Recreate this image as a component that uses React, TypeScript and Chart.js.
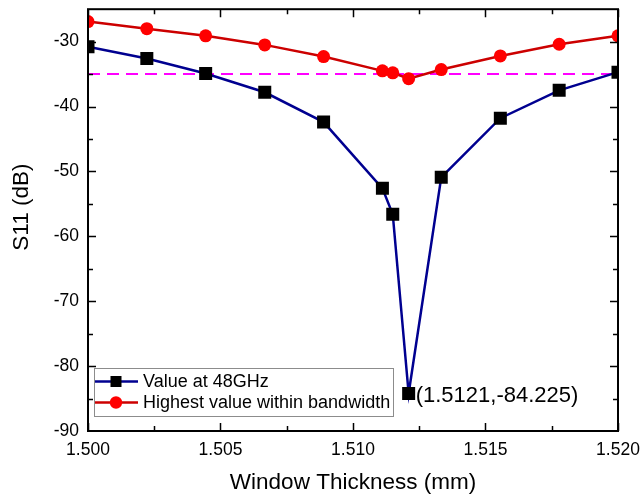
import React, { useEffect, useRef } from 'react';
import { Chart, registerables } from 'chart.js';

Chart.register(...registerables);

// ---- data ----
const thickness = [1.5, 1.50222, 1.50444, 1.50667, 1.50889, 1.51111, 1.5115, 1.5121, 1.51333, 1.51556, 1.51778, 1.52];
const s11At48GHz = [-30.8, -32.6, -34.9, -37.8, -42.4, -52.6, -56.6, -84.225, -50.9, -41.8, -37.5, -34.7];
const highestInBand = [-26.9, -28.0, -29.1, -30.5, -32.3, -34.5, -34.8, -35.7, -34.3, -32.2, -30.4, -29.1];
const thresholdLevel = -35;
const xTickValues = [1.5, 1.505, 1.51, 1.515, 1.52];
const yTickValues = [-90, -80, -70, -60, -50, -40, -30];
const seriesNames = ['Value at 48GHz', 'Highest value within bandwidth'];
const xAxisTitle = 'Window Thickness (mm)';
const yAxisTitle = 'S11 (dB)';
const annotationIndex = 7;

const FONT = "'Liberation Sans', Arial, Helvetica, sans-serif";
const BLUE_LINE = '#000090';
const RED_LINE = '#CC0000';
const RED_MARK = '#FF0000';

const framePlugin = {
  id: 'originFrame',
  afterDraw(chart: any) {
    const { ctx, chartArea: a, scales } = chart;
    const xs = scales.x;
    const ys = scales.y;
    ctx.save();
    // frame
    ctx.strokeStyle = '#000';
    ctx.lineWidth = 2;
    ctx.strokeRect(a.left, a.top, a.right - a.left, a.bottom - a.top);

    // ticks
    ctx.lineWidth = 1.5;
    const majorLen = 8;
    const minorLen = 5;
    const xMinor: number[] = [];
    for (let i = 0; i < xTickValues.length - 1; i++) xMinor.push((xTickValues[i] + xTickValues[i + 1]) / 2);
    const yMinor: number[] = [];
    for (let i = 0; i < yTickValues.length - 1; i++) yMinor.push((yTickValues[i] + yTickValues[i + 1]) / 2);
    yMinor.push(yTickValues[yTickValues.length - 1] + 5);
    ctx.beginPath();
    const xt = (v: number, len: number) => {
      const p = Math.round(xs.getPixelForValue(v)) + 0.5;
      ctx.moveTo(p, a.bottom);
      ctx.lineTo(p, a.bottom - len);
      ctx.moveTo(p, a.top);
      ctx.lineTo(p, a.top + len);
    };
    const yt = (v: number, len: number) => {
      const p = Math.round(ys.getPixelForValue(v)) + 0.5;
      if (p < a.top + 2 || p > a.bottom - 2) return;
      ctx.moveTo(a.left, p);
      ctx.lineTo(a.left + len, p);
      ctx.moveTo(a.right, p);
      ctx.lineTo(a.right - len, p);
    };
    xTickValues.forEach((v) => xt(v, majorLen));
    xMinor.forEach((v) => xt(v, minorLen));
    yTickValues.forEach((v) => yt(v, majorLen));
    yMinor.forEach((v) => yt(v, minorLen));
    ctx.stroke();

    // y axis title
    ctx.fillStyle = '#000';
    ctx.font = `22.5px ${FONT}`;
    ctx.textAlign = 'center';
    ctx.textBaseline = 'middle';
    ctx.translate(22, (a.top + a.bottom) / 2 - 13);
    ctx.rotate(-Math.PI / 2);
    ctx.fillText(yAxisTitle, 0, 0);
    ctx.restore();

    // annotation
    ctx.save();
    const px = xs.getPixelForValue(thickness[annotationIndex]);
    const py = ys.getPixelForValue(s11At48GHz[annotationIndex]);
    ctx.fillStyle = '#000';
    ctx.font = `22px ${FONT}`;
    ctx.textAlign = 'left';
    ctx.textBaseline = 'middle';
    ctx.fillText(`(${thickness[annotationIndex]},${s11At48GHz[annotationIndex]})`, px + 7, py + 2);
    ctx.restore();

    // legend
    ctx.save();
    ctx.font = `18px ${FONT}`;
    const boxL = a.left + 6;
    const boxB = a.bottom - 15;
    const rowH = 21;
    const boxH = 48;
    const boxT = boxB - boxH;
    const textX = boxL + 49;
    const textW = Math.max(...seriesNames.map((n) => ctx.measureText(n).width));
    const boxR = textX + textW + 3;
    ctx.fillStyle = '#fff';
    ctx.fillRect(boxL, boxT, boxR - boxL, boxH);
    ctx.strokeStyle = '#8c8c8c';
    ctx.lineWidth = 1;
    ctx.strokeRect(Math.round(boxL) + 0.5, Math.round(boxT) + 0.5, Math.round(boxR - boxL), Math.round(boxH));
    const rows = [boxT + 13.5, boxT + 13.5 + rowH];
    const lineL = boxL + 1;
    const lineR = boxL + 44;
    const mx = boxL + 22;
    // row 1
    ctx.strokeStyle = BLUE_LINE;
    ctx.lineWidth = 2.5;
    ctx.beginPath();
    ctx.moveTo(lineL, rows[0]);
    ctx.lineTo(lineR, rows[0]);
    ctx.stroke();
    ctx.fillStyle = '#000';
    ctx.fillRect(mx - 5.5, rows[0] - 5.5, 11, 11);
    // row 2
    ctx.strokeStyle = RED_LINE;
    ctx.beginPath();
    ctx.moveTo(lineL, rows[1]);
    ctx.lineTo(lineR, rows[1]);
    ctx.stroke();
    ctx.fillStyle = RED_MARK;
    ctx.beginPath();
    ctx.arc(mx, rows[1], 6.2, 0, Math.PI * 2);
    ctx.fill();
    // text
    ctx.fillStyle = '#000';
    ctx.textAlign = 'left';
    ctx.textBaseline = 'middle';
    ctx.fillText(seriesNames[0], textX, rows[0] + 1);
    ctx.fillText(seriesNames[1], textX, rows[1] + 1);
    ctx.restore();
  },
};

const bgPlugin = {
  id: 'whiteBg',
  beforeDraw(chart: any) {
    const { ctx, width, height } = chart;
    ctx.save();
    ctx.fillStyle = '#fff';
    ctx.fillRect(0, 0, width, height);
    ctx.restore();
  },
};

const noOverflow = (s: any) => {
  s.paddingTop = 0;
  s.paddingBottom = 0;
  s.paddingLeft = 0;
  s.paddingRight = 0;
};

export default function App() {
  const ref = useRef<HTMLCanvasElement | null>(null);

  useEffect(() => {
    if (!ref.current) return;
    const chart = new Chart(ref.current, {
      type: 'line',
      data: {
        datasets: [
          {
            label: 'threshold',
            data: [
              { x: xTickValues[0], y: thresholdLevel },
              { x: xTickValues[xTickValues.length - 1], y: thresholdLevel },
            ],
            borderColor: '#FF00FF',
            borderWidth: 2,
            borderDash: [12, 7],
            pointRadius: 0,
            order: 3,
          },
          {
            label: seriesNames[0],
            data: thickness.map((x, i) => ({ x, y: s11At48GHz[i] })),
            borderColor: BLUE_LINE,
            borderWidth: 2.5,
            pointStyle: 'rect',
            pointRadius: 9.2,
            pointBackgroundColor: '#000',
            pointBorderColor: '#000',
            pointBorderWidth: 0,
            order: 2,
          },
          {
            label: seriesNames[1],
            data: thickness.map((x, i) => ({ x, y: highestInBand[i] })),
            borderColor: RED_LINE,
            borderWidth: 2.5,
            pointStyle: 'circle',
            pointRadius: 6.5,
            pointBackgroundColor: RED_MARK,
            pointBorderColor: RED_MARK,
            pointBorderWidth: 0,
            order: 1,
          },
        ],
      },
      options: {
        responsive: false,
        animation: false,
        clip: 1,
        layout: { padding: { left: 0, right: 24, top: 6, bottom: 0 } },
        plugins: {
          legend: { display: false },
          tooltip: { enabled: false },
        },
        scales: {
          x: {
            type: 'linear',
            min: 1.5,
            max: 1.52,
            grid: { display: false, drawTicks: false },
            border: { display: false },
            afterBuildTicks: (s: any) => {
              s.ticks = xTickValues.map((v) => ({ value: v }));
            },
            afterFit: (s: any) => {
              s.height = 69;
              noOverflow(s);
            },
            ticks: {
              autoSkip: false,
              maxRotation: 0,
              padding: 9,
              color: '#000',
              font: { family: FONT, size: 17.5 },
              callback: (v: any) => Number(v).toFixed(3),
            },
            title: {
              display: true,
              text: xAxisTitle,
              color: '#000',
              font: { family: FONT, size: 22.5 },
              padding: { top: 0, bottom: 4 },
            },
          },
          y: {
            type: 'linear',
            min: -90,
            max: -25,
            grid: { display: false, drawTicks: false },
            border: { display: false },
            afterBuildTicks: (s: any) => {
              s.ticks = yTickValues.map((v) => ({ value: v }));
            },
            afterFit: (s: any) => {
              s.width = 88;
              noOverflow(s);
            },
            ticks: {
              autoSkip: false,
              padding: 9,
              color: '#000',
              font: { family: FONT, size: 17.5 },
              callback: (v: any) => String(v),
            },
          },
        },
      } as any,
      plugins: [bgPlugin, framePlugin],
    });
    return () => chart.destroy();
  }, []);

  return (
    <div style={{ position: 'fixed', left: 0, top: 0, width: 642, height: 500, background: '#fff' }}>
      <canvas ref={ref} width={642} height={500} style={{ display: 'block', width: 642, height: 500 }} />
    </div>
  );
}
